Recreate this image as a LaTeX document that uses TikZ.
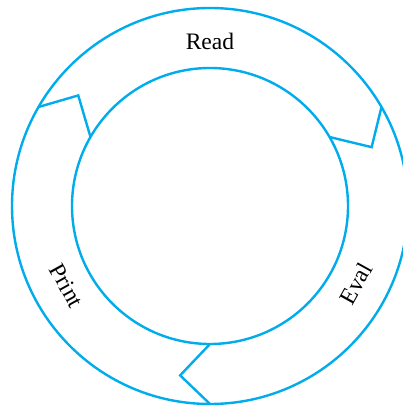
\documentclass[tikz,border=0pt]{standalone}
\usepackage{fontspec}
\setmainfont{Liberation Serif}
\usepackage{tikz}
\definecolor{ringblue}{RGB}{0,172,236}
\tikzset{
    ring/.style  = {draw=ringblue, line width=1.2pt},
    notch/.style = {draw=ringblue, line width=1.2pt, line join=miter},
    lbl/.style   = {font=\fontsize{11.8}{14}\selectfont, inner sep=0pt},
}

\begin{document}
\begin{tikzpicture}[x=0.5pt, y=0.5pt]
        \useasboundingbox (-210,-200) rectangle (192,206);
        % the two circles of the ring
        \draw[ring] (0,0) circle (198);
        \draw[ring] (0,0) circle (138);
        % notched boundaries between the three parts
        \foreach \ang/\nm in {150/rp, 30/re, 270/ep} {
            \coordinate (\nm-out) at (\ang:198);
            \coordinate (\nm-tip) at ({\ang-10}:172);
            \coordinate (\nm-in)  at (\ang:138);
            \draw[notch] (\nm-out) -- (\nm-tip) -- (\nm-in);
        }
        % labels
        \node[lbl] (read)  at (90:165)  {Read};
        \node[lbl, rotate=61]  (eval)  at (-28:165) {Eval};
        \node[lbl, rotate=-61] (print) at (209:164) {Print};
    \end{tikzpicture}
\end{document}
